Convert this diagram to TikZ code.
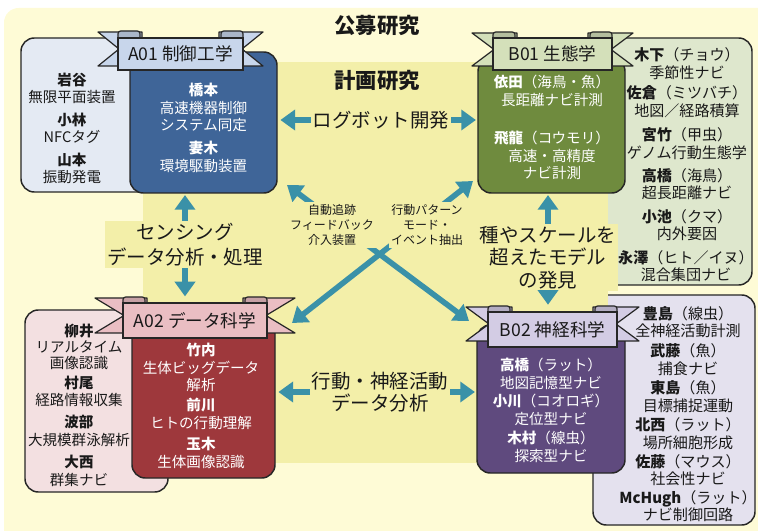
\documentclass[tikz,border=0pt]{standalone}
\usepackage{fontspec}
\setmainfont{Noto Sans CJK JP}
\usetikzlibrary{arrows.meta}
\definecolor{outerbg}{HTML}{FEFBD6}
\definecolor{innerbg}{HTML}{F3EFA9}
\definecolor{a01pc}{HTML}{E4EAF3}
\definecolor{a01c}{HTML}{3F6598}
\definecolor{a01rc}{HTML}{C8D6EB}
\definecolor{b01pc}{HTML}{DEE7CD}
\definecolor{b01c}{HTML}{6F8B3E}
\definecolor{b01rc}{HTML}{D4E0BA}
\definecolor{a02pc}{HTML}{F3E0E1}
\definecolor{a02c}{HTML}{9E383C}
\definecolor{a02rc}{HTML}{EABEC3}
\definecolor{b02pc}{HTML}{E4E1EE}
\definecolor{b02c}{HTML}{5F4A7E}
\definecolor{b02rc}{HTML}{D3CCE4}
\definecolor{arrowc}{HTML}{3A91A8}
\newcommand\myfs[2]{\fontsize{#1}{#2}\selectfont}
\newcommand\ribtails[7]{%
  \filldraw[ribline, fill=#7] (#1,#5) -- (#2+24,#5) -- (#2+24,#6) -- (#1,#6) -- (#2+1,{(#5+#6)/2}) -- cycle;
  \filldraw[ribline, fill=#7] (#4,#5) -- (#3-24,#5) -- (#3-24,#6) -- (#4,#6) -- (#3-1,{(#5+#6)/2}) -- cycle;
  \filldraw[ribline, fill=#7!85!black, rounded corners=2pt] (#2,#5-1) rectangle (#2+22,#5+9);
  \filldraw[ribline, fill=#7!85!black, rounded corners=2pt] (#3-22,#5-1) rectangle (#3,#5+9);
}
\begin{document}
\begin{tikzpicture}[x=0.75pt,y=-0.75pt,
  sz/.style 2 args={minimum width=#1*0.75pt, minimum height=#2*0.75pt},
  panel/.style={draw=black!85, line width=1.1pt, rounded corners=10pt, inner sep=0pt},
  ribline/.style={draw=black!85, line width=0.9pt, line join=round},
  ribbox/.style={draw=black!85, line width=0.9pt, inner sep=0pt, font=\myfs{13.2}{15}, text=black!90},
  ptxt/.style={align=center, inner sep=0pt, text=black!90, font=\myfs{10.9}{13}},
  wtxt/.style={align=center, inner sep=0pt, text=white, font=\myfs{10.9}{13}},
  stxt/.style={align=center, inner sep=0pt, text=black!90, font=\myfs{11.3}{13.1}},
  lab/.style={align=center, fill=innerbg, inner sep=1.5pt, text=black!90},
  arr/.style={draw=arrowc, line width=4.2pt, -{Triangle[length=11pt,width=15pt]}},
  dbl/.style={draw=arrowc, line width=4.2pt, {Triangle[length=11pt,width=15pt]}-{Triangle[length=11pt,width=15pt]}},
  head/.style={font=\myfs{16}{19}\bfseries, text=black!90}]
\useasboundingbox (0,0) rectangle (758,531);
% backgrounds
\fill[outerbg, rounded corners=11pt] (4,8) rectangle (790,560);
\node[head] (koubo) at (377,25) {公募研究};
% side panels
\node[panel, fill=a01pc, sz={144}{154}] (a01p) at (93,115) {};
\node[panel, fill=a02pc, sz={143}{182}] (a02p) at (96.5,401) {};
\node[panel, fill=b01pc, sz={152}{247}] (b01p) at (676,161.5) {};
\node[panel, fill=b02pc, sz={162}{230}] (b02p) at (674,410) {};
% planned research region
\fill[innerbg] (143,62) rectangle (608,463);
\node[head] (keikaku) at (377,80) {計画研究};
% main boxes
\node[panel, fill=a01c, sz={147}{141}] (a01) at (203.5,122.5) {};
\node[panel, fill=b01c, sz={147}{135}] (b01) at (551.5,125.5) {};
\node[panel, fill=a02c, sz={143}{158}] (a02) at (203.5,399) {};
\node[panel, fill=b02c, sz={148}{148}] (b02) at (551,399) {};
% ribbons
\ribtails{98}{118}{243}{263}{32}{66}{a01rc}
\node[ribbox, fill=a01rc, sz={125}{32}] (a01r) at (180.5,54) {A01 制御工学};
\ribtails{472}{493}{612}{633}{33}{66}{b01rc}
\node[ribbox, fill=b01rc, sz={119}{32}] (b01r) at (552.5,54) {B01 生態学};
\ribtails{95}{123}{267}{295}{298}{333}{a02rc}
\node[ribbox, fill=a02rc, sz={144}{35}] (a02r) at (195,320.5) {A02 データ科学};
\ribtails{466}{488}{617}{639}{307}{341}{b02rc}
\node[ribbox, fill=b02rc, sz={129}{35}] (b02r) at (552.5,329.5) {B02 神経科学};
% A01 panel texts
\node[ptxt] (p1) at (72,88.5) {\textbf{岩谷}\\無限平面装置};
\node[ptxt] (p2) at (72,128.5) {\textbf{小林}\\NFCタグ};
\node[ptxt] (p3) at (72,168.5) {\textbf{山本}\\振動発電};
\node[wtxt] (q1) at (203.5,107.5) {\textbf{橋本}\\高速機器制御\\システム同定};
\node[wtxt] (q2) at (203.5,157) {\textbf{妻木}\\環境駆動装置};
% B01 texts
\node[wtxt] (r1) at (552,91) {\textbf{依田}（海鳥・魚）\\長距離ナビ計測};
\node[wtxt] (r2) at (552,155.5) {\textbf{飛龍}（コウモリ）\\高速・高精度\\ナビ計測};
\node[stxt] (s1) at (687,63.5) {\textbf{木下}（チョウ）\\季節性ナビ};
\node[stxt] (s2) at (687,101.5) {\textbf{佐倉}（ミツバチ）\\地図／経路積算};
\node[stxt] (s3) at (687,143.5) {\textbf{宮竹}（甲虫）\\ゲノム行動生態学};
\node[stxt] (s4) at (687,184) {\textbf{高橋}（海鳥）\\超長距離ナビ};
\node[stxt] (s5) at (687,225) {\textbf{小池}（クマ）\\内外要因};
\node[stxt] (s6) at (686,266) {\textbf{永澤}（ヒト／イヌ）\\混合集団ナビ};
% A02 texts
\node[ptxt, font=\myfs{10.9}{12}] (t1) at (79,347) {\textbf{柳井}\\リアルタイム\\画像認識};
\node[ptxt] (t2) at (79,391.5) {\textbf{村尾}\\経路情報収集};
\node[ptxt] (t3) at (79,431) {\textbf{波部}\\大規模群泳解析};
\node[ptxt] (t4) at (79,471) {\textbf{大西}\\群集ナビ};
\node[wtxt] (u1) at (201,367.5) {\textbf{竹内}\\生体ビッグデータ\\解析};
\node[wtxt] (u2) at (201,414) {\textbf{前川}\\ヒトの行動理解};
\node[wtxt] (u3) at (201,453) {\textbf{玉木}\\生体画像認識};
% B02 texts
\node[wtxt, font=\myfs{10.9}{13.5}] (v1) at (551,374) {\textbf{高橋}（ラット）\\地図記憶型ナビ};
\node[wtxt, font=\myfs{10.9}{13.5}] (v2) at (551,410) {\textbf{小川}（コオロギ）\\定位型ナビ};
\node[wtxt, font=\myfs{10.9}{13.5}] (v3) at (551,447) {\textbf{木村}（線虫）\\探索型ナビ};
\node[stxt] (w1) at (688,322) {\textbf{豊島}（線虫）\\全神経活動計測};
\node[stxt] (w2) at (688,359.5) {\textbf{武藤}（魚）\\捕食ナビ};
\node[stxt] (w3) at (688,396.5) {\textbf{東島}（魚）\\目標捕捉運動};
\node[stxt] (w4) at (688,433.5) {\textbf{北西}（ラット）\\場所細胞形成};
\node[stxt] (w5) at (688,470) {\textbf{佐藤}（マウス）\\社会性ナビ};
\node[stxt] (w6) at (688,506) {\textbf{McHugh}（ラット）\\ナビ制御回路};
% crossing arrows
\coordinate (xa) at (287,185);
\coordinate (xb) at (469,321);
\coordinate (xc) at (473,181);
\coordinate (xd) at (292,323);
\draw[dbl] (xa) -- (xb);
\draw[dbl] (xc) -- (xd);
\node[lab, font=\myfs{9}{11.25}] (lx1) at (332,225) {自動追跡\\フィードバック\\介入装置};
\node[lab, font=\myfs{9}{11.25}] (lx2) at (427,225) {行動パターン\\モード・\\イベント抽出};
% big labels
\node[lab, font=\myfs{14.6}{18}] (lg) at (381,120) {ログボット開発};
\node[lab, font=\myfs{14.6}{18.75}] (ls) at (185,244.5) {センシング\\データ分析・処理};
\node[lab, font=\myfs{14.6}{16.9}] (lsp) at (548,257.5) {種やスケールを\\超えたモデル\\の発見};
\node[lab, font=\myfs{14.6}{16.5}] (lb) at (380,392) {行動・神経活動\\データ分析};
% label arrows
\draw[arr, shorten >=2pt] (lg.west) -- (lg.west -| a01.east);
\draw[arr, shorten >=1pt] (lg.east) -- (lg.east -| b01.west);
\draw[arr, shorten >=1pt] (ls.north) -- (ls.north |- a01.south);
\draw[arr, shorten >=4.5pt] (ls.south) -- (ls.south |- a02r.north);
\draw[arr, shorten >=1pt] (lsp.north) -- (lsp.north |- b01.south);
\draw[arr, shorten >=5pt] (lsp.south) -- (lsp.south |- b02r.north);
\draw[arr, shorten >=2pt] (lb.west) -- (lb.west -| a02.east);
\draw[arr, shorten >=1pt] (lb.east) -- (lb.east -| b02.west);
\end{tikzpicture}
\end{document}
